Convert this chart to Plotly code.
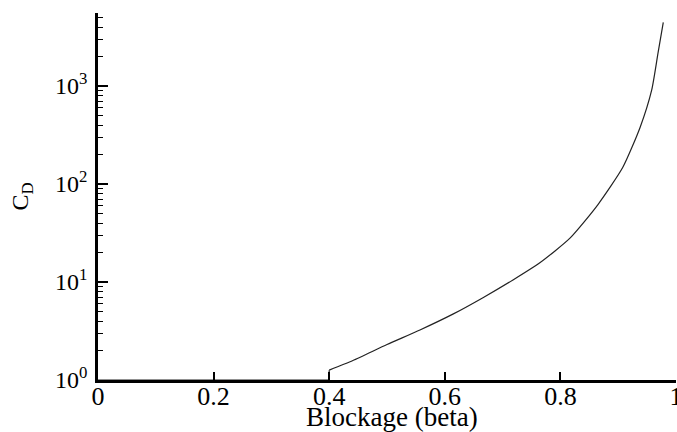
import plotly.graph_objects as go

# Data
beta = [0.0, 0.4, 0.4, 0.441, 0.5, 0.557, 0.614, 0.666, 0.718, 0.765, 0.817,
        0.865, 0.908, 0.938, 0.958, 0.969, 0.978]
cd = [1.0, 1.0, 1.26, 1.58, 2.30, 3.24, 4.70, 6.92, 10.5, 15.8, 28.2,
      61.7, 148, 380, 912, 2190, 4470]

x_ticks = [0, 0.2, 0.4, 0.6, 0.8, 1.0]
x_ticklabels = ["0", "0.2", "0.4", "0.6", "0.8", "1"]
y_ticks = [1, 10, 100, 1000]
y_ticklabels = ["10<sup>0</sup>", "10<sup>1</sup>", "10<sup>2</sup>", "10<sup>3</sup>"]
x_title = "Blockage (beta)"
y_title = "C<sub>D</sub>"

fig = go.Figure()
fig.add_trace(go.Scatter(x=beta[:3], y=cd[:3], mode="lines",
                         line=dict(color="#222222", width=1.2),
                         showlegend=False))
fig.add_trace(go.Scatter(x=beta[2:], y=cd[2:], mode="lines",
                         line=dict(color="#222222", width=1.2, shape="spline", smoothing=0.6),
                         showlegend=False))

font_family = "Liberation Serif"
fig.update_layout(
    width=677, height=432,
    margin=dict(l=98, r=1, t=13, b=52),
    paper_bgcolor="white", plot_bgcolor="white",
    font=dict(family=font_family, color="black", size=24),
)
fig.update_xaxes(
    range=[0, 1], tickvals=x_ticks, ticktext=x_ticklabels,
    ticks="inside", ticklen=8, tickwidth=1.5, tickcolor="black",
    ticklabelstandoff=-9, ticklabeloverflow="allow",
    showline=True, linecolor="black", linewidth=2.5,
    showgrid=False, zeroline=False, automargin=False,
    tickfont=dict(size=26),
)
fig.add_annotation(text=x_title, xref="paper", yref="paper",
                   x=0.509, y=-0.0572, xanchor="center", yanchor="top",
                   showarrow=False, font=dict(size=27, family=font_family),
                   borderpad=0)
fig.update_yaxes(
    type="log", range=[0, 3.745], tickvals=y_ticks, ticktext=y_ticklabels,
    ticks="inside", ticklen=10, tickwidth=1.5, tickcolor="black",
    ticklabelstandoff=3,
    minor=dict(ticks="inside", ticklen=5, tickwidth=1, tickcolor="black",
               dtick="D1", showgrid=False),
    showline=True, linecolor="black", linewidth=2.5,
    showgrid=False, zeroline=False, automargin=False,
    tickfont=dict(size=24),
    title=dict(text=y_title, font=dict(size=24), standoff=20),
)

post = ("document.body.style.margin='0';"
        "document.body.style.overflow='hidden';"
        "var gd=document.getElementById('{plot_id}');"
        "gd.style.width='677px';gd.style.height='432px';"
        "Plotly.relayout(gd,{width:677,height:432});")

fig.write_html("out.html", post_script=post, config={"displayModeBar": False})
